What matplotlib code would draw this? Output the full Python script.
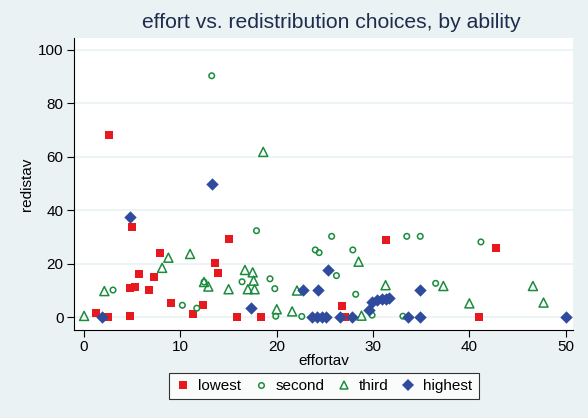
import matplotlib
matplotlib.use("Agg")
import matplotlib.pyplot as plt
from matplotlib.lines import Line2D

plt.rcParams['font.family'] = ['Liberation Sans', 'DejaVu Sans']

# ability groups: (effortav, redistav)
lowest_x = [2.56, 4.95, 15.0, 7.9, 13.6, 5.7, 13.9, 7.3, 4.8, 5.3, 6.7, 9.0, 12.3,
            1.25, 11.3, 2.5, 4.8, 15.9, 18.4, 31.3, 42.8, 26.8, 27.1, 41.0]
lowest_y = [68.3, 33.6, 29.2, 24.0, 20.1, 16.2, 16.5, 15.0, 11.0, 11.4, 10.1, 5.1, 4.5,
            1.6, 1.0, 0.0, 0.5, 0.0, 0.0, 28.7, 25.8, 4.1, 0.0, 0.0]

second_x = [13.25, 17.9, 16.4, 19.3, 12.45, 19.8, 3.0, 10.2, 11.7, 19.9, 22.6, 24.0,
            24.4, 25.7, 27.9, 33.5, 34.9, 41.2, 26.2, 36.5, 28.2, 29.9, 33.1]
second_y = [90.3, 32.3, 13.2, 14.3, 13.1, 10.6, 10.1, 4.4, 3.3, 0.3, 0.2, 25.1,
            24.1, 30.2, 25.1, 30.2, 30.2, 28.1, 15.5, 12.6, 8.5, 0.7, 0.3]

third_x = [18.6, 11.0, 8.75, 8.1, 16.7, 17.5, 17.6, 12.45, 12.9, 15.0, 17.0, 17.7,
           2.1, 22.1, 20.0, 21.6, 0.0, 28.5, 31.3, 37.3, 46.6, 40.0, 47.7, 28.8]
third_y = [61.8, 23.6, 22.2, 18.4, 17.6, 16.7, 13.6, 13.1, 11.4, 10.4, 10.4, 10.4,
           9.7, 9.9, 2.9, 2.1, 0.4, 20.7, 11.9, 11.6, 11.6, 5.1, 5.4, 0.5]

highest_x = [4.8, 13.3, 25.3, 22.7, 24.3, 34.9, 17.3, 1.9, 23.7, 24.2, 24.7, 25.1,
             26.6, 27.8, 29.6, 29.9, 30.4, 30.9, 31.3, 31.7, 33.6, 34.9, 50.0]
highest_y = [37.6, 49.9, 17.6, 10.1, 10.1, 10.1, 3.5, 0.1, 0.0, 0.0, 0.0, 0.0,
             0.0, 0.0, 2.6, 5.7, 6.4, 6.6, 6.9, 7.1, 0.0, 0.0, 0.0]

bg = "#eaf2f3"
red = "#e8191e"
green = "#1b8b3d"
blue = "#2e4b9e"

fig = plt.figure(figsize=(5.88, 4.18), dpi=100, facecolor=bg)
ax = fig.add_axes([0.126, 0.2105, 0.848, 0.699])
ax.set_facecolor("white")

ax.scatter(lowest_x, lowest_y, marker="s", s=40, color=red, linewidths=0, zorder=3)
ax.scatter(second_x, second_y, marker="o", s=16, facecolors="none", edgecolors=green,
           linewidths=1.1, zorder=3)
ax.scatter(third_x, third_y, marker="^", s=42, facecolors="none", edgecolors=green,
           linewidths=1.1, zorder=3)
ax.scatter(highest_x, highest_y, marker="D", s=40, color=blue, linewidths=0, zorder=4)

ax.set_xlim(-1.04, 50.73)
ax.set_ylim(-4.87, 104.5)
ax.set_xticks([0, 10, 20, 30, 40, 50])
ax.set_yticks([0, 20, 40, 60, 80, 100])
ax.grid(axis="y", color=bg, linewidth=1.2)
ax.set_axisbelow(True)
for side in ["top", "right"]:
    ax.spines[side].set_visible(False)
ax.spines["left"].set_color("black")
ax.spines["bottom"].set_color("black")
ax.tick_params(labelsize=11, length=5, color="black", labelcolor="black", pad=2.5)

ax.set_xlabel("effortav", fontsize=11, labelpad=0)
ax.set_ylabel("redistav", fontsize=11, labelpad=3)
fig.text(0.563, 0.947, "effort vs. redistribution choices, by ability",
         fontsize=15.2, color="#1e2c4d", ha="center", va="center")

handles = [
    Line2D([], [], linestyle="none", marker="s", markersize=6, color=red, markeredgewidth=0),
    Line2D([], [], linestyle="none", marker="o", markersize=4, markerfacecolor="none",
           markeredgecolor=green, markeredgewidth=1.1),
    Line2D([], [], linestyle="none", marker="^", markersize=6, markerfacecolor="none",
           markeredgecolor=green, markeredgewidth=1.1),
    Line2D([], [], linestyle="none", marker="D", markersize=6, color=blue, markeredgewidth=0),
]
leg = fig.legend(handles, ["lowest", "second", "third", "highest"], ncol=4,
                 loc="center", bbox_to_anchor=(0.551, 0.076), fontsize=11,
                 frameon=True, fancybox=False, edgecolor="black",
                 handletextpad=0.5, columnspacing=0.75, handlelength=1.0,
                 borderpad=0.4, borderaxespad=0)
leg.get_frame().set_linewidth(0.8)

fig.savefig("out.png", dpi=100, facecolor=bg)
